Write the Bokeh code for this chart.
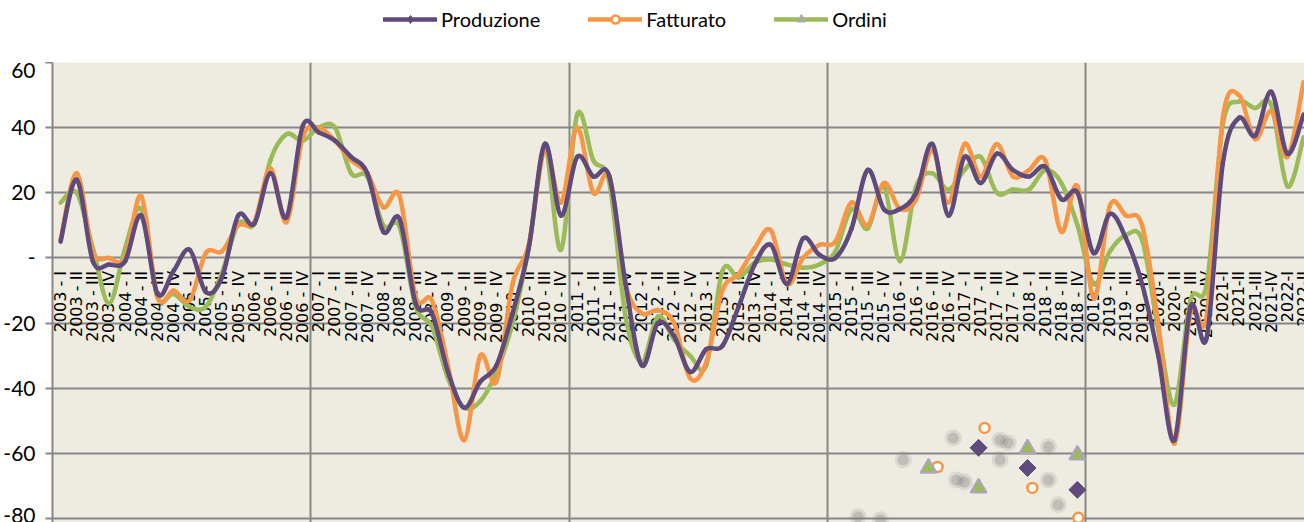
import numpy as np
from bokeh.plotting import figure
from bokeh.layouts import column
from bokeh.models import FixedTicker, Legend, LegendItem, Range1d
from bokeh.embed import file_html
from bokeh.resources import INLINE
from bokeh.core.properties import value

# ---------------- data ----------------
years = list(range(2003, 2023))
roman = ["I", "II", "III", "IV"]
quarters = []
for yy in years:
    for q in roman:
        if yy < 2020:
            quarters.append(f"{yy} - {q}")
        elif yy == 2020:
            quarters.append(f"{yy}- {q}")
        else:
            quarters.append(f"{yy}-{q}")
quarters = quarters[:78]  # 2003-I ... 2022-II

produzione = [5, 24, -1, -2, -1, 13, -11, -4, 2.5, -10.5, -6, 13, 10.5, 26, 12.5, 40.5,
              38.5, 36, 31, 26, 8, 12, -14, -17, -35, -46, -38, -33, -17, 3, 35, 13,
              31, 25, 25, -8, -33, -20, -24, -35, -28, -27, -15, -2, 4, -8, 6, 1,
              0, 9, 27, 15, 15, 20, 35, 13, 31, 23, 32, 27, 25, 28, 18, 20,
              1.5, 13.5, 6, -8, -30, -56, -15, -24.5, 29, 43, 37.5, 51, 32, 44]
fatturato = [5.5, 26, 2, 0, 0, 19, -12, -10, -13, 1.5, 2, 10, 11, 27.5, 11, 37,
             40, 36, 30, 26, 15.5, 19, -12, -13, -33, -56, -30, -38, -8, 4, 33.5, 17,
             40, 20, 25, -8, -17, -16, -20, -37, -32, -10, -5, 3, 8.5, -8, 0, 4,
             5, 17, 10, 23, 15, 18, 33, 17, 35, 25, 35, 25, 27, 30, 8, 22,
             -12.5, 16, 13, 10, -20, -57, -17, -18, 43, 50, 36.5, 45, 31, 54]
ordini = [17, 20, 3, -14, 3, 15, -12, -11, -15, -15, -4.6, 10.5, 10.5, 30, 38, 36,
          40, 40, 26, 25, 10, 9.5, -15, -21, -37, -46, -44, -35, -20, 3, 33, 2.5,
          44, 30, 23, -18, -32, -18, -25, -30, -33, -4, -6, -1.5, -0.5, -2, -3, -2,
          2, 15, 9, 22, -1, 22, 26, 21, 27, 31, 20, 21, 21, 27, 23, 10,
          -8, 2, 7, 5.5, -22, -45, -13, -8, 41, 48, 46, 47, 22, 37]

# stray markers visible in the lower part of the picture (x in category units, y in values)
stray_prod_x = [56.87, 59.9, 62.99]
stray_prod_y = [-58.3, -64.5, -71.2]
stray_fatt_x = [57.24, 54.33, 60.2, 63.05]
stray_fatt_y = [-52.2, -64.2, -70.6, -79.8]
stray_ord_x = [53.77, 56.87, 59.9, 62.99]
stray_ord_y = [-64.5, -70.6, -58.6, -60.5]
shadow_x = [55.3, 58.2, 58.7, 58.2, 61.2, 55.5, 56.0, 61.2, 61.8, 49.4, 52.2, 50.8]
shadow_y = [-55.3, -55.9, -56.8, -62.0, -58.0, -68.2, -68.8, -68.2, -75.8, -79.5, -62.0, -80.4]

ticks_y = [-80, -60, -40, -20, 0, 20, 40, 60]
tick_labels_y = ["-80", "-60", "-40", "-20", "-", "20", "40", "60"]
year_bounds = [15.5, 31.5, 47.5, 63.5]

PURPLE = "#604a7b"
ORANGE = "#f79646"
GREEN = "#9bbb59"
LAVENDER = "#b3a2c7"
GRID = "#868686"

# ---------------- legend strip ----------------
pl = figure(width=1304, height=62, output_backend="svg", toolbar_location=None,
            x_range=Range1d(0, 1304), y_range=Range1d(0, 62),
            min_border_left=0, min_border_right=0, min_border_top=0, min_border_bottom=0,
            background_fill_color="white", border_fill_color="white", outline_line_color=None)
pl.axis.visible = False
pl.grid.visible = False
lp_line = pl.line([-50, -40], [-50, -50], line_color=PURPLE, line_width=4.5, line_cap="round")
lp_mark = pl.scatter([-50], [-50], marker="diamond", size=17,
                     fill_color=PURPLE, line_color=PURPLE)
lf_line = pl.line([-50, -40], [-50, -50], line_color=ORANGE, line_width=4.5, line_cap="round")
lf_mark = pl.scatter([-50], [-50], marker="circle", size=10, fill_color="white",
                     line_color=ORANGE, line_width=2.5)
lo_line = pl.line([-50, -40], [-50, -50], line_color=GREEN, line_width=4.5, line_cap="round")
lo_mark = pl.scatter([-50], [-50], marker="triangle", size=13, fill_color=GREEN,
                     line_color=LAVENDER, line_width=1.5)
legend = Legend(items=[
    LegendItem(label="Produzione", renderers=[lp_line, lp_mark]),
    LegendItem(label="Fatturato", renderers=[lf_line, lf_mark]),
    LegendItem(label="Ordini", renderers=[lo_line, lo_mark]),
], orientation="horizontal", location=(331, 31), padding=0, margin=0,
    spacing=48, glyph_width=54, glyph_height=20, label_standoff=4, label_height=20,
    border_line_color=None, background_fill_alpha=0,
    label_text_font="Lato", label_text_font_size="20px", label_text_color="#000000")
pl.add_layout(legend)

# ---------------- main chart ----------------
p = figure(width=1304, height=460, output_backend="svg", toolbar_location=None,
           x_range=Range1d(-0.5, 77.06), y_range=Range1d(-81.23, 60.0),
           min_border_left=52, min_border_right=0, min_border_top=0, min_border_bottom=0,
           background_fill_color="#eeece1", border_fill_color="white",
           outline_line_color=None)

p.xaxis.visible = False
p.xgrid.ticker = FixedTicker(ticks=year_bounds)
p.xgrid.grid_line_color = GRID
p.xgrid.grid_line_width = 2
p.ygrid.ticker = FixedTicker(ticks=ticks_y)
p.ygrid.grid_line_color = GRID
p.ygrid.grid_line_width = 2

ya = p.yaxis[0]
ya.ticker = FixedTicker(ticks=ticks_y)
ya.major_label_overrides = {t: s for t, s in zip(ticks_y, tick_labels_y)}
ya.axis_line_color = GRID
ya.axis_line_width = 2
ya.major_tick_line_color = GRID
ya.major_tick_line_width = 2
ya.major_tick_out = 7
ya.major_tick_in = 0
ya.minor_tick_out = 0
ya.minor_tick_in = 0
ya.major_label_standoff = 10
ya.major_label_text_font = "Lato"
ya.major_label_text_font_size = "21px"
ya.major_label_text_color = "#000000"

# category labels along the zero line
xs = list(range(len(quarters)))
p.text(x=xs, y=[0] * len(xs), text=quarters, angle=np.pi / 2,
       text_align="right", text_baseline="middle", y_offset=13,
       text_font=value("DejaVu Sans"), text_font_size="16px", text_color="#000000")


def smooth(vals):
    y = np.asarray(vals, dtype=float)
    x = np.arange(len(y), dtype=float)
    n = len(y)
    out = {k: [] for k in ("x0", "y0", "x1", "y1", "cx0", "cy0", "cx1", "cy1")}
    for i in range(n - 1):
        a = max(i - 1, 0)
        b = min(i + 2, n - 1)
        out["x0"].append(x[i]); out["y0"].append(y[i])
        out["x1"].append(x[i + 1]); out["y1"].append(y[i + 1])
        out["cx0"].append(x[i] + (x[i + 1] - x[a]) / 6.0)
        out["cy0"].append(y[i] + (y[i + 1] - y[a]) / 6.0)
        out["cx1"].append(x[i + 1] - (x[b] - x[i]) / 6.0)
        out["cy1"].append(y[i + 1] - (y[b] - y[i]) / 6.0)
    return out


for vals, col in ((ordini, GREEN), (fatturato, ORANGE), (produzione, PURPLE)):
    d = smooth(vals)
    p.bezier(x0=d["x0"], y0=d["y0"], x1=d["x1"], y1=d["y1"],
             cx0=d["cx0"], cy0=d["cy0"], cx1=d["cx1"], cy1=d["cy1"],
             line_color=col, line_width=4.5, line_cap="round")

# soft grey shadows
p.scatter(shadow_x, shadow_y, marker="circle", size=17, color="#7f7f7f", alpha=0.18, line_color=None)
p.scatter(shadow_x, shadow_y, marker="circle", size=11, color="#7f7f7f", alpha=0.3, line_color=None)

p.scatter(stray_prod_x, stray_prod_y, marker="square", angle=np.pi / 4, size=12,
          fill_color=PURPLE, line_color=PURPLE, line_width=1)
p.scatter(stray_fatt_x, stray_fatt_y, marker="circle", size=10,
          fill_color="white", line_color=ORANGE, line_width=2.5)
p.scatter(stray_ord_x, stray_ord_y, marker="triangle", size=16,
          fill_color=GREEN, line_color=LAVENDER, line_width=2)

layout = column(pl, p, spacing=0)
open("out.html", "w").write(file_html(layout, INLINE))
